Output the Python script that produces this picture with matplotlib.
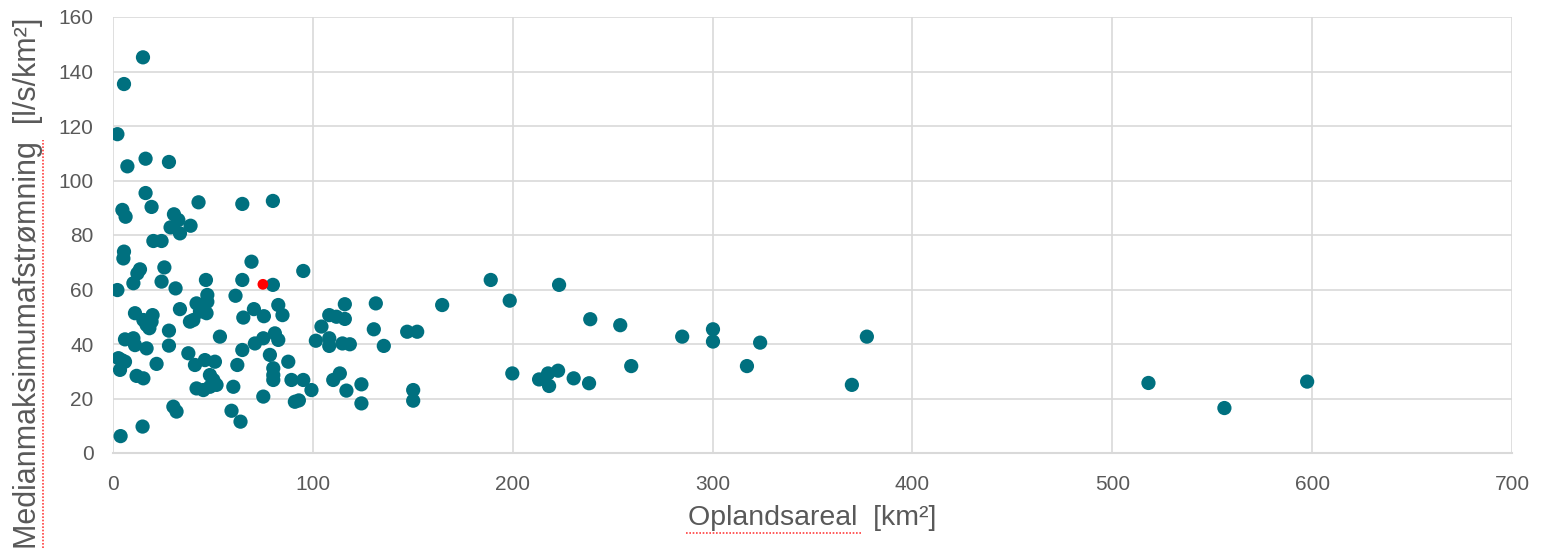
import matplotlib
matplotlib.use("Agg")
import matplotlib.pyplot as plt
from matplotlib.lines import Line2D

# Catchment area [km2] and median max runoff [l/s/km2]
area = [15, 5.5, 2.2, 7.2, 16.3, 28, 16.3, 4.7, 6.3, 19.3, 42.8, 64.7, 80, 30.5, 32.7,
        28.8, 33.5, 38.8, 20.2, 24.3, 5.5, 5.2,
        69.3, 25.7, 13.5, 12.2, 10.2, 95.2, 24.3, 46.5, 64.7, 80, 2.2, 31.3, 47.2, 61.3,
        41.8, 47.2, 33.5, 11, 19.8, 43.5, 46.8, 40.2, 38.5, 70.5, 75.5, 82.7, 84.8, 65.2,
        15.2, 16.8, 18.2, 19.3, 28, 28, 6, 10.2, 11, 16.8, 53.5, 37.7, 64.7, 71, 75.2,
        81, 82.7, 78.5, 87.7, 2.7, 4.3, 6, 3.5, 21.8, 41, 46, 51, 62.2, 80.2, 80.2, 80.2,
        11.8, 15.2, 48.5, 50.2, 41.8, 45.2, 48.5, 51.8, 60.2, 89.3, 95.2, 99.3, 75.2,
        91, 93, 30.2, 31.8, 59.3, 63.8, 14.8, 3.8,
        116, 131.5, 164.7, 108.2, 111.8, 116, 104.3, 130.5, 147.2, 152.2, 101.5, 108.2,
        108.2, 114.8, 118.5, 135.5, 110.2, 113.5, 116.8, 124.3, 124.3, 150.2, 150.2,
        189, 198.5, 223.2, 238.8, 253.8, 284.8, 300.2, 300.2, 323.8, 377.2, 199.8, 213.2,
        217.7, 222.7, 218.2, 230.5, 238.2, 259.3, 317.2, 369.7, 518.1, 556.1, 597.5]
runoff = [145.2, 135.4, 117, 105.2, 108, 106.8, 95.4, 89.2, 86.7, 90.3, 92, 91.4, 92.5, 87.6, 85.5,
          82.8, 80.6, 83.4, 77.8, 77.8, 73.9, 71.4,
          70.2, 68.1, 67.4, 65.9, 62.3, 66.8, 62.9, 63.5, 63.5, 61.7, 59.8, 60.4, 58, 57.7,
          54.9, 55.5, 52.8, 51.3, 50.6, 51.9, 51.3, 48.8, 48.2, 52.8, 50.2, 54.3, 50.6, 49.7,
          48.8, 47, 45.8, 48.2, 44.9, 39.4, 41.7, 42.1, 39.6, 38.4, 42.7, 36.6, 37.8, 40.2, 42.1,
          43.9, 41.5, 36, 33.5, 34.8, 34.1, 33.5, 30.5, 32.7, 32.3, 34.1, 33.5, 32.3, 31.1, 28.6, 26.8,
          28.3, 27.4, 28.6, 26.8, 23.7, 23.1, 24.3, 25, 24.3, 26.8, 26.8, 23.1, 20.7,
          18.8, 19.3, 17, 15.2, 15.5, 11.5, 9.7, 6.2,
          54.6, 54.9, 54.3, 50.6, 50, 49.2, 46.4, 45.4, 44.5, 44.5, 41.2, 42.1,
          39.3, 40.2, 39.9, 39.3, 26.8, 29.2, 22.9, 25.2, 18.2, 23.1, 19.2,
          63.5, 55.9, 61.7, 49.1, 46.9, 42.7, 45.4, 40.9, 40.5, 42.7, 29.2, 27,
          29.2, 30.2, 24.6, 27.4, 25.6, 31.9, 31.9, 25, 25.7, 16.5, 26.2]

# Highlighted catchment
hl_area = [75]
hl_runoff = [61.9]

xticks = [0, 100, 200, 300, 400, 500, 600, 700]
yticks = [0, 20, 40, 60, 80, 100, 120, 140, 160]

plt.rcParams['font.family'] = ['Liberation Sans', 'DejaVu Sans']

fig = plt.figure(figsize=(15.48, 5.5), dpi=100)
ax = fig.add_axes([113/1548, 97/550, 1399/1548, 436/550])

ax.scatter(area, runoff, s=105, color='#00707F', edgecolors='none', zorder=3)
ax.scatter(hl_area, hl_runoff, s=60, color='#FF0000', edgecolors='none', zorder=4)

ax.set_xlim(0, 700)
ax.set_ylim(0, 160)
ax.set_xticks(xticks)
ax.set_yticks(yticks)
ax.grid(True, color='#D9D9D9', linewidth=1.2, zorder=0)
ax.set_axisbelow(True)
for s in ['top', 'right', 'left']:
    ax.spines[s].set_visible(False)
ax.spines['bottom'].set_color('#D9D9D9')
ax.spines['bottom'].set_linewidth(1.5)
ax.tick_params(axis='both', length=0, labelsize=15, labelcolor='#595959')
ax.tick_params(axis='x', pad=16)
ax.tick_params(axis='y', pad=14)

ax.set_xlabel('Oplandsareal  [km²]', fontsize=20.5, color='#595959', labelpad=8)
ax.set_ylabel('Medianmaksimumafstrømning  [l/s/km²]', fontsize=22, color='#595959')
ax.yaxis.set_label_coords(-0.050, 0.39)

# spell-check underlines seen in the screenshot
fig.add_artist(Line2D([686/1548, 862/1548], [1 - 533/550, 1 - 533/550],
                      color='#FF4040', lw=1.2, ls=(0, (1, 1))))
fig.add_artist(Line2D([43/1548, 43/1548], [1 - 548/550, 1 - 140/550],
                      color='#FF4040', lw=1.2, ls=(0, (1, 1))))

fig.savefig('out.png', dpi=100)
